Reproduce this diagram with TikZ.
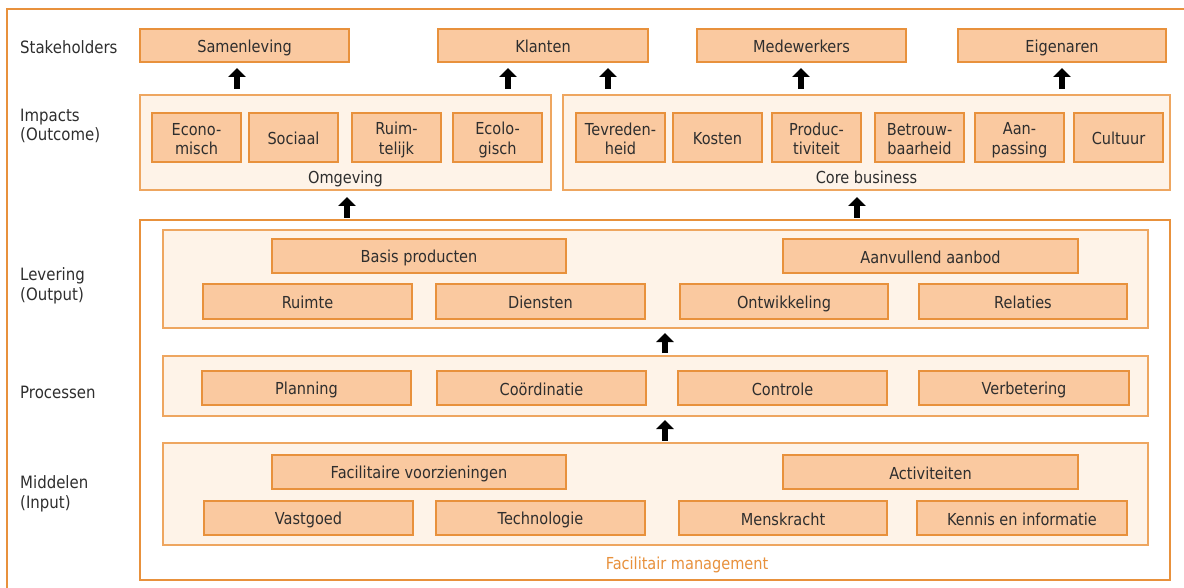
\documentclass[tikz,border=0pt]{standalone}
\usepackage{fontspec}
\setmainfont{DejaVu Sans}[FakeStretch=0.88]
\usetikzlibrary{arrows.meta}
\definecolor{obord}{HTML}{E8913C}
\definecolor{ofill}{HTML}{FAC9A0}
\definecolor{cfill}{HTML}{FEF3E8}
\definecolor{cbord}{HTML}{EEA660}
\definecolor{txt}{HTML}{2E2E2E}
\newcommand{\mystrut}{\rule[-2.2pt]{0pt}{19.2pt}}
\tikzset{
  item/.style={draw=obord, fill=ofill, line width=1.4pt, inner sep=0pt, align=center,
    text=txt, font=\fontsize{16.5}{19.5}\selectfont},
  cont/.style={draw=cbord, fill=cfill, line width=1.1pt, inner sep=0pt},
  fm/.style={draw=obord, fill=white, line width=1.1pt, inner sep=0pt},
  rowlab/.style={anchor=west, align=left, text=txt, inner sep=0pt, font=\fontsize{17}{19.5}\selectfont},
  sublab/.style={text=txt, inner sep=0pt, font=\fontsize{16.5}{19}\selectfont},
  bigarrow/.style={line width=6pt, black, -{Triangle[width=17pt,length=9pt]}, shorten >=0pt},
}
\newcommand{\ibox}[6]{\node[item, minimum width={((#4)-(#2))*1pt}, minimum height={((#5)-(#3))*1pt}] (#1) at ({((#2)+(#4))/2},{((#3)+(#5))/2}) {\mystrut #6\mystrut};}
\newcommand{\cbox}[6]{\node[#6, minimum width={((#4)-(#2))*1pt}, minimum height={((#5)-(#3))*1pt}] (#1) at ({((#2)+(#4))/2},{((#3)+(#5))/2}) {};}
\begin{document}
\begin{tikzpicture}[x=1pt,y=-1pt]
\useasboundingbox (0,0) rectangle (1184,588);
% outer frame (open on right and bottom)
\coordinate (frA) at (1184,9);
\coordinate (frB) at (7,9);
\coordinate (frC) at (7,588);
\draw[obord, line width=1.3pt] (frA) -- (frB) -- (frC);

% row labels
\node[rowlab] (lstake) at (20,47) {Stakeholders};
\node[rowlab] (limp) at (20,126) {Impacts\\(Outcome)};
\node[rowlab] (llev) at (20,286) {Levering\\(Output)};
\node[rowlab] (lproc) at (20,392) {Processen};
\node[rowlab] (lmid) at (20,494) {Middelen\\(Input)};

% stakeholders
\ibox{samen}{140}{29}{349}{62}{Samenleving}
\ibox{klant}{438}{29}{648}{62}{Klanten}
\ibox{medew}{697}{29}{906}{62}{Medewerkers}
\ibox{eigen}{958}{29}{1166}{62}{Eigenaren}

% impacts containers
\cbox{omg}{140}{95}{551}{190}{cont}
\cbox{core}{563}{95}{1170}{190}{cont}
\node[sublab] (omglab) at (345.5,176.5) {\mystrut Omgeving};
\node[sublab] (corelab) at (866.5,176.5) {\mystrut Core business};

\ibox{econ}{152}{113}{241}{162}{Econo-\\misch}
\ibox{soc}{249}{113}{338}{162}{Sociaal}
\ibox{ruim}{352}{113}{441}{162}{Ruim-\\telijk}
\ibox{ecol}{453}{113}{542}{162}{Ecolo-\\gisch}
\ibox{tevr}{576}{113}{665}{162}{Tevreden-\\heid}
\ibox{kost}{673}{113}{762}{162}{Kosten}
\ibox{prod}{772}{113}{861}{162}{Produc-\\tiviteit}
\ibox{betr}{875}{113}{964}{162}{Betrouw-\\baarheid}
\ibox{aanp}{975}{113}{1064}{162}{Aan-\\passing}
\ibox{cult}{1074}{113}{1163}{162}{Cultuur}

% facilitair management
\cbox{fmbox}{140}{220}{1170}{580}{fm}
\node[inner sep=0pt, text=obord, font=\fontsize{16.5}{18}\selectfont] (fmlab) at (687,562.5) {\mystrut Facilitair management};

% levering
\cbox{lev}{163}{230}{1148}{328}{cont}
\ibox{basis}{272}{239}{566}{273}{Basis producten}
\ibox{aanv}{783}{239}{1078}{273}{Aanvullend aanbod}
\ibox{ruimte}{203}{284}{412}{319}{Ruimte}
\ibox{dienst}{436}{284}{645}{319}{Diensten}
\ibox{ontw}{680}{284}{888}{319}{Ontwikkeling}
\ibox{relat}{919}{284}{1127}{319}{Relaties}

% processen
\cbox{proc}{163}{356}{1148}{416}{cont}
\ibox{plan}{202}{371}{411}{405}{Planning}
\ibox{coord}{437}{371}{646}{405}{Coördinatie}
\ibox{contr}{678}{371}{887}{405}{Controle}
\ibox{verb}{919}{371}{1129}{405}{Verbetering}

% middelen
\cbox{mid}{163}{443}{1148}{545}{cont}
\ibox{facv}{272}{455}{566}{489}{Facilitaire voorzieningen}
\ibox{activ}{783}{455}{1078}{489}{Activiteiten}
\ibox{vastg}{204}{501}{413}{535}{Vastgoed}
\ibox{techn}{436}{501}{645}{535}{Technologie}
\ibox{mensk}{679}{501}{887}{535}{Menskracht}
\ibox{kenn}{917}{501}{1127}{535}{Kennis en informatie}

% arrows
\coordinate (a1s) at (237,89); \coordinate (a1e) at (237,68);
\coordinate (a2s) at (508,89); \coordinate (a2e) at (508,68);
\coordinate (a3s) at (608,89); \coordinate (a3e) at (608,68);
\coordinate (a4s) at (801,89); \coordinate (a4e) at (801,68);
\coordinate (a5s) at (1062,89); \coordinate (a5e) at (1062,68);
\coordinate (a6s) at (347,218); \coordinate (a6e) at (347,197);
\coordinate (a7s) at (857,218); \coordinate (a7e) at (857,197);
\coordinate (a8s) at (665,353); \coordinate (a8e) at (665,333);
\coordinate (a9s) at (665,441); \coordinate (a9e) at (665,420);
\foreach \i in {1,...,9} {\draw[bigarrow] (a\i s) -- (a\i e);}
\end{tikzpicture}
\end{document}
